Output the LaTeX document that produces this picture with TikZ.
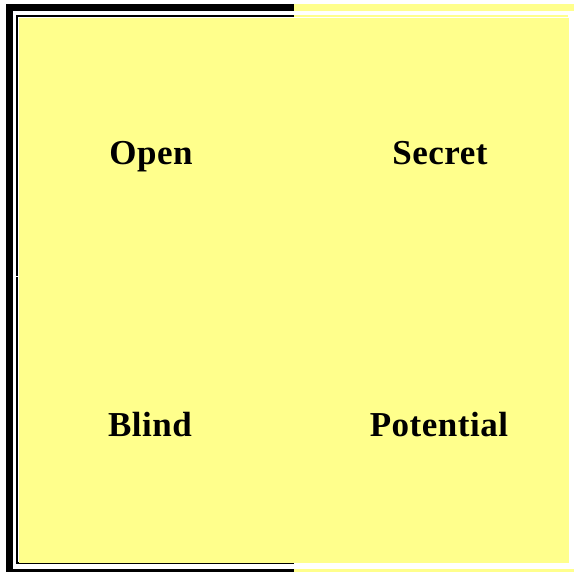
\documentclass[tikz,border=0pt]{standalone}
\usepackage{fontspec}
\setmainfont{Liberation Serif}
\newfontfamily\lblfont[LetterSpace=1.5]{Liberation Serif}
\definecolor{pad}{RGB}{255,255,140}
\begin{document}
\begin{tikzpicture}[x=1pt,y=-1pt,
  lbl/.style={anchor=base,inner sep=0pt,font=\lblfont\fontsize{35}{40}\selectfont\bfseries}]
\useasboundingbox (0,0) rectangle (574,572);
\fill[white] (0,0) rectangle (574,572);
% outer thick frame
\fill[black] (6,4) rectangle (294,11);
\fill[black] (6,4) rectangle (13,572);
\fill[black] (6,569) rectangle (294,572);
\fill[pad] (294,4) rectangle (574,11);
\fill[pad] (294,569) rectangle (574,572);
% inner thin frame
\fill[black] (16,15) rectangle (294,17);
\fill[black] (16,15) rectangle (18,564);
\fill[black] (16,562) rectangle (294,564);
\fill[pad] (294,15) rectangle (568,17);
% white gap in thin line
\fill[white] (16,276.5) rectangle (19,277.5);
% fill
\fill[pad] (19,18) rectangle (569,563);
\node[lbl] (open) at (151,165) {Open};
\node[lbl] (secret) at (440,165) {Secret};
\node[lbl] (blind) at (150,437) {Blind};
\node[lbl] (potential) at (439,437) {Potential};
\end{tikzpicture}
\end{document}
